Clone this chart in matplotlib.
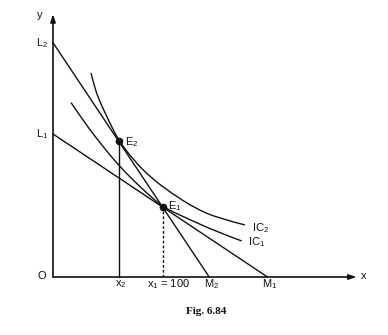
import matplotlib
matplotlib.use("Agg")
import matplotlib.pyplot as plt
from matplotlib.path import Path
from matplotlib.patches import PathPatch

plt.rcParams['font.family'] = ['Liberation Sans', 'DejaVu Sans']
plt.rcParams['mathtext.fontset'] = 'custom'
plt.rcParams['mathtext.rm'] = 'Liberation Sans'
plt.rcParams['mathtext.it'] = 'Liberation Sans'

# Budget line intercepts
L1, L2 = 130, 213     # y-intercepts
M1, M2 = 195, 142     # x-intercepts
x1, x2 = 100, 60      # quantities at equilibria
y_e1, y_e2 = 63.5, 123.5

# Indifference curves
ic1_x = [16.4, 29.1, 44.3, 59.4, 74.5, 87.3, 100.0, 120.0, 150.3, 171.5]
ic1_y = [158.5, 139.7, 120.0, 101.8, 86.4, 74.6, 63.5, 54.1, 40.5, 32.8]
ic2_x = [34.5, 37.3, 41.2, 50.3, 60.0, 74.5, 89.7, 107.9, 129.1, 150.3, 174.5]
ic2_y = [185.5, 174.5, 162.5, 142.7, 123.5, 104.8, 89.7, 76.1, 62.5, 53.4, 47.3]

y_axis_top = 239
x_axis_end = 276

fig = plt.figure(figsize=(3.88, 3.35), dpi=100)
ax = fig.add_axes([0, 0, 1, 1])
ax.set_xlim(-53 / 1.1, (388 - 53) / 1.1)
ax.set_ylim(-(335 - 277) / 1.1, 277 / 1.1)
ax.axis('off')

k = '#111111'
lw = 1.0


def smooth_curve(xs, ys, **kw):
    """Draw a smooth curve through the read points with quadratic Beziers."""
    pts = list(zip(xs, ys))
    verts = [pts[0]]
    codes = [Path.MOVETO]
    for i in range(1, len(pts) - 1):
        mid = ((pts[i][0] + pts[i + 1][0]) / 2, (pts[i][1] + pts[i + 1][1]) / 2)
        if i == len(pts) - 2:
            mid = pts[-1]
        verts += [pts[i], mid]
        codes += [Path.CURVE3, Path.CURVE3]
    ax.add_patch(PathPatch(Path(verts, codes), fill=False, **kw))


# axes with arrows
ax.annotate('', xy=(0, y_axis_top), xytext=(0, 0),
            arrowprops=dict(arrowstyle='-|>,head_length=0.45,head_width=0.15',
                            color=k, lw=1.2, shrinkA=0, shrinkB=0))
ax.annotate('', xy=(x_axis_end, 0), xytext=(0, 0),
            arrowprops=dict(arrowstyle='-|>,head_length=0.45,head_width=0.15',
                            color=k, lw=1.2, shrinkA=0, shrinkB=0))

# budget lines
ax.plot([0, M1], [L1, 0], color=k, lw=lw)
ax.plot([0, M2], [L2, 0], color=k, lw=lw)

# indifference curves
smooth_curve(ic1_x, ic1_y, edgecolor=k, lw=lw)
smooth_curve(ic2_x, ic2_y, edgecolor=k, lw=lw)

# drop lines
ax.plot([x2, x2], [0, y_e2], color=k, lw=lw)
ax.plot([x1, x1], [0, y_e1], color=k, lw=lw, linestyle=(0, (2, 1.5)))

# equilibrium points
ax.plot([x2, x1], [y_e2, y_e1], 'o', color=k, ms=4.5, zorder=5)

fs = 8
ax.text(-11.8, 238.2, 'y', fontsize=fs, ha='center', va='center', color=k)
ax.text(-4.5, 212.7, 'L$_2$', fontsize=fs, ha='right', va='center', color=k)
ax.text(-4.5, 130, 'L$_1$', fontsize=fs, ha='right', va='center', color=k)
ax.text(-10, 0.9, 'O', fontsize=fs, ha='center', va='center', color=k)
ax.text(65.5, 122.7, 'E$_2$', fontsize=fs, ha='left', va='center', color=k)
ax.text(104.5, 64.5, 'E$_1$', fontsize=fs, ha='left', va='center', color=k)
ax.text(61.8, -6.4, 'x$_2$', fontsize=fs, ha='center', va='center', color=k)
ax.text(105.5, -6.4, 'x$_1$ = 100', fontsize=fs, ha='center', va='center', color=k)
ax.text(144.5, -6.4, 'M$_2$', fontsize=fs, ha='center', va='center', color=k)
ax.text(197.3, -6.4, 'M$_1$', fontsize=fs, ha='center', va='center', color=k)
ax.text(282.7, 0.9, 'x', fontsize=fs, ha='center', va='center', color=k)
ax.text(180.9, 44.5, 'IC$_2$', fontsize=fs, ha='left', va='center', color=k)
ax.text(177.3, 31.8, 'IC$_1$', fontsize=fs, ha='left', va='center', color=k)
ax.text(139.1, -31.8, 'Fig. 6.84', fontsize=8, ha='center', va='center',
        color=k, family='Liberation Serif', fontweight='bold')

fig.savefig('out.png', dpi=100, facecolor='white')
